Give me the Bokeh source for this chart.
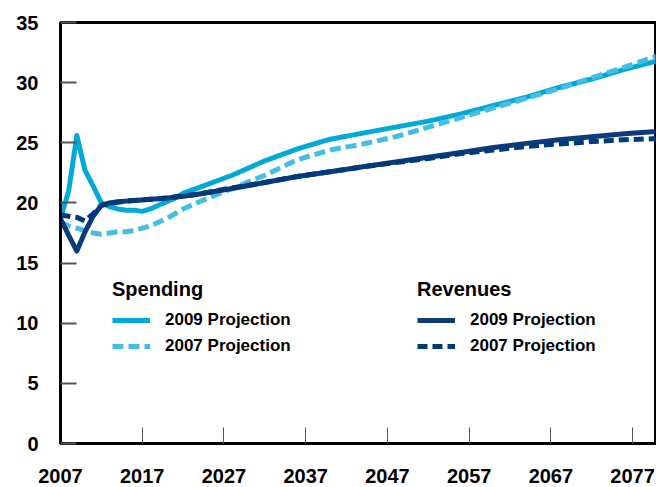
from bokeh.plotting import figure
from bokeh.models import Range1d, Legend, LegendItem, FixedTicker
from bokeh.embed import file_html
from bokeh.resources import INLINE

years = [2007, 2008, 2009, 2010, 2011, 2012, 2013, 2014, 2015, 2016, 2017, 2018, 2019,
         2020, 2021, 2022, 2024, 2028, 2032, 2036, 2040, 2044, 2048, 2052, 2056, 2060,
         2064, 2068, 2072, 2076, 2080]

spending_2009 = [18.7, 21.0, 25.6, 22.7, 21.4, 20.0, 19.7, 19.5, 19.4, 19.4, 19.3, 19.5, 19.8,
                 20.1, 20.4, 20.8, 21.3, 22.3, 23.5, 24.5, 25.3, 25.8, 26.3, 26.8, 27.4, 28.1,
                 28.8, 29.6, 30.3, 31.1, 31.8]
spending_2007 = [18.4, 18.1, 17.9, 17.7, 17.5, 17.4, 17.5, 17.6, 17.6, 17.7, 17.9, 18.1, 18.4,
                 18.7, 19.1, 19.5, 20.1, 21.2, 22.3, 23.6, 24.4, 24.9, 25.5, 26.3, 27.1, 27.9,
                 28.7, 29.5, 30.4, 31.3, 32.2]
revenues_2009 = [18.7, 17.3, 16.0, 17.6, 18.9, 19.8, 20.0, 20.1, 20.15, 20.2, 20.25, 20.3, 20.35,
                 20.4, 20.5, 20.55, 20.75, 21.2, 21.7, 22.2, 22.6, 23.0, 23.4, 23.8, 24.2, 24.6,
                 24.95, 25.25, 25.5, 25.75, 25.95]
revenues_2007 = [19.0, 18.9, 18.8, 18.5, 19.1, 19.8, 19.95, 20.05, 20.15, 20.2, 20.25, 20.3, 20.35,
                 20.4, 20.5, 20.55, 20.75, 21.25, 21.7, 22.2, 22.6, 23.0, 23.35, 23.7, 24.1, 24.4,
                 24.7, 24.9, 25.1, 25.25, 25.35]

x_ticks = [2007, 2017, 2027, 2037, 2047, 2057, 2067, 2077]
y_ticks = [0, 5, 10, 15, 20, 25, 30, 35]

FONT = "Liberation Sans"
C_SP09 = "#00A9D7"
C_SP07 = "#45BDE4"
C_RV09 = "#0C3A7D"
C_RV07 = "#013A7B"

p = figure(width=656, height=487, output_backend="svg", toolbar_location=None,
           x_range=Range1d(2007, 2079.8), y_range=Range1d(0, 35),
           min_border_left=60, min_border_right=1, min_border_top=22, min_border_bottom=44)

p.outline_line_color = "black"
p.outline_line_width = 3
p.xgrid.visible = False
p.ygrid.visible = False
p.background_fill_color = "white"
p.border_fill_color = "white"

for ax in (p.xaxis[0], p.yaxis[0]):
    ax.axis_line_color = "black"
    ax.axis_line_width = 3
    ax.major_tick_in = 16
    ax.major_tick_out = 0
    ax.minor_tick_line_color = None
    ax.major_tick_line_color = "#555555"
    ax.major_label_text_font = FONT
    ax.major_label_text_font_style = "bold"
    ax.major_label_text_font_size = "20px"
    ax.major_label_text_color = "black"

p.xaxis[0].ticker = FixedTicker(ticks=x_ticks)
p.yaxis[0].ticker = FixedTicker(ticks=y_ticks)
p.xaxis[0].major_tick_line_width = 1
p.yaxis[0].major_tick_line_width = 2
p.xaxis[0].major_label_standoff = 25
p.yaxis[0].major_label_standoff = 22

r_sp09 = p.line(years, spending_2009, line_color=C_SP09, line_width=5, line_join="round")
r_sp07 = p.line(years, spending_2007, line_color=C_SP07, line_width=5, line_dash="11 5")
r_rv09 = p.line(years, revenues_2009, line_color=C_RV09, line_width=5, line_join="round")
r_rv07 = p.line(years, revenues_2007, line_color=C_RV07, line_width=5, line_dash="10 5")


def make_legend(title, items, loc):
    lg = Legend(items=items, title=title, location=loc, orientation="vertical")
    lg.title_text_font = FONT
    lg.title_text_font_style = "bold"
    lg.title_text_font_size = "20px"
    lg.title_text_color = "black"
    lg.title_standoff = 9
    lg.label_text_font = FONT
    lg.label_text_font_style = "bold"
    lg.label_text_font_size = "17px"
    lg.label_text_color = "black"
    lg.glyph_width = 38
    lg.glyph_height = 20
    lg.label_height = 20
    lg.label_standoff = 15
    lg.spacing = 6
    lg.padding = 0
    lg.margin = 0
    lg.background_fill_alpha = 0
    lg.border_line_alpha = 0
    return lg


leg_sp = make_legend("Spending", [LegendItem(label="2009 Projection", renderers=[r_sp09]),
                                  LegendItem(label="2007 Projection", renderers=[r_sp07])], (52, 87))
leg_rv = make_legend("Revenues", [LegendItem(label="2009 Projection", renderers=[r_rv09]),
                                  LegendItem(label="2007 Projection", renderers=[r_rv07])], (357, 87))
p.add_layout(leg_sp, "center")
p.add_layout(leg_rv, "center")

open("out.html", "w").write(file_html(p, INLINE))
